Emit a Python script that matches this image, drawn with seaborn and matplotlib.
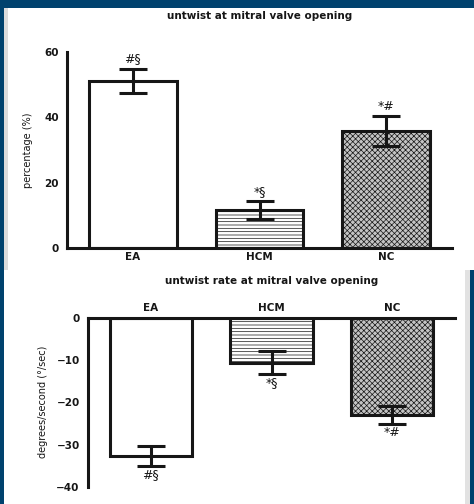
import matplotlib
matplotlib.use("Agg")
import matplotlib.pyplot as plt
from matplotlib.patches import Rectangle
import seaborn as sns
import pandas as pd

groups = ["EA", "HCM", "NC"]
untwist = [51.2, 11.6, 35.8]
untwist_err = [3.7, 2.8, 4.6]
rate = [-32.7, -10.7, -23.0]
rate_err = [2.4, 2.7, 2.2]
marks_top = ["#§", "*§", "*#"]
marks_bottom = ["#§", "*§", "*#"]

sns.set_theme(style="white")
plt.rcParams["font.family"] = ["DejaVu Sans"]
plt.rcParams["hatch.linewidth"] = 0.5

W, H = 474, 504
fig = plt.figure(figsize=(W / 100, H / 100), dpi=100)
fig.patch.set_facecolor("#00426e")


def px_rect(x0, y0, x1, y1, color):
    # pixel box (top-left origin) -> figure rectangle, drawn behind the axes
    fig.patches.append(Rectangle((x0 / W, 1 - y1 / H), (x1 - x0) / W, (y1 - y0) / H,
                                 transform=fig.transFigure, facecolor=color,
                                 edgecolor="none", zorder=-10))


px_rect(4, 8, 8, 270, "#dcdcdc")
px_rect(8, 8, 474, 270, "white")
px_rect(4, 270, 465, 504, "white")
px_rect(465, 270, 470, 504, "#e2e2e2")

hatches = ["", "-----", "xxxxxx"]
faces = ["white", "white", "#c4c4c4"]
lw = 2.2
ink = "#161616"


def style_bars(ax):
    for patch, h, fc in zip(ax.patches, hatches, faces):
        patch.set_facecolor(fc)
        patch.set_edgecolor(ink)
        patch.set_hatch(h)
        patch.set_linewidth(lw)


# top panel
df1 = pd.DataFrame({"group": groups, "value": untwist})
ax1 = fig.add_axes([67 / W, 1 - 248 / H, (452 - 67) / W, 196 / H])
ax1.set_facecolor("none")
sns.barplot(df1, x="group", y="value", ax=ax1, width=0.69, errorbar=None)
style_bars(ax1)
ax1.errorbar(range(3), untwist, yerr=untwist_err, fmt="none", ecolor=ink,
             elinewidth=lw, capsize=10, capthick=lw, zorder=5)
for i, m in enumerate(marks_top):
    ax1.text(i, untwist[i] + untwist_err[i] + 1.0, m, ha="center", va="bottom",
             fontsize=9, color=ink)
ax1.set_xlim(-0.52, 2.52)
ax1.set_ylim(0, 60)
ax1.set_yticks([0, 20, 40, 60])
ax1.set_xlabel("")
ax1.set_ylabel("percentage (%)", fontsize=7, color=ink, labelpad=8)
ax1.set_title("untwist at mitral valve opening", fontsize=7.5, fontweight="bold",
              color=ink, pad=24)
sns.despine(ax=ax1)

# bottom panel
df2 = pd.DataFrame({"group": groups, "value": rate})
ax2 = fig.add_axes([88 / W, 17 / H, (455 - 88) / W, 169.5 / H])
ax2.set_facecolor("none")
sns.barplot(df2, x="group", y="value", ax=ax2, width=0.68, errorbar=None)
style_bars(ax2)
ax2.errorbar(range(3), rate, yerr=rate_err, fmt="none", ecolor=ink,
             elinewidth=lw, capsize=10, capthick=lw, zorder=5)
for i, m in enumerate(marks_bottom):
    ax2.text(i, rate[i] - rate_err[i] - 0.5, m, ha="center", va="top",
             fontsize=9, color=ink)
ax2.set_xlim(-0.52, 2.52)
ax2.set_ylim(-40, 0)
ax2.set_yticks([0, -10, -20, -30, -40])
ax2.set_yticklabels(["0", "\u221210", "\u221220", "\u221230", "\u221240"])
ax2.xaxis.tick_top()
ax2.set_xlabel("")
ax2.set_ylabel("degrees/second (°/sec)", fontsize=7, color=ink, labelpad=6)
ax2.set_title("untwist rate at mitral valve opening", fontsize=7.5, fontweight="bold",
              color=ink, pad=24)
ax2.spines["right"].set_visible(False)
ax2.spines["bottom"].set_visible(False)

for ax in (ax1, ax2):
    for s in ax.spines.values():
        s.set_linewidth(lw)
        s.set_color(ink)
    ax.tick_params(axis="y", length=4, width=lw, color=ink, pad=2)
    ax.tick_params(axis="x", length=0, pad=3)
    for t in ax.get_xticklabels() + ax.get_yticklabels():
        t.set_fontweight("bold")
        t.set_fontsize(7.5)
        t.set_color(ink)

fig.savefig("out.png", dpi=100, facecolor=fig.get_facecolor())
